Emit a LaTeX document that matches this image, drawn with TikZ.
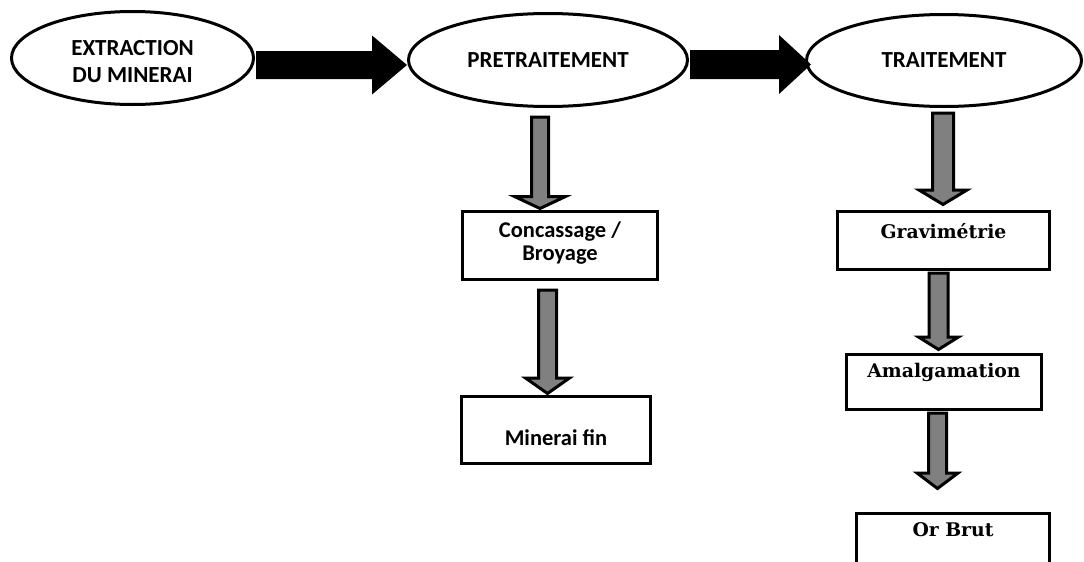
\documentclass[tikz,border=0pt]{standalone}
\usepackage{fontspec}
\setmainfont{Carlito}
\newfontfamily\serifb{DejaVu Serif}
\usetikzlibrary{shapes.geometric,calc}
\definecolor{arrgrey}{RGB}{128,128,128}
\newcommand\vblockarrow[5]{% start, tip, shaft half, head half, head length
  \draw[greyarrow] let \p1=(#1), \p2=(#2) in
    (\x2-#3pt,\y1) -- (\x2+#3pt,\y1) -- (\x2+#3pt,\y2+#5pt) -- (\x2+#4pt,\y2+#5pt)
    -- (\x2,\y2) -- (\x2-#4pt,\y2+#5pt) -- (\x2-#3pt,\y2+#5pt) -- cycle;}
\newcommand\hblockarrow[5]{% start, tip, shaft half, head half, head length
  \fill[blackarrow] let \p1=(#1), \p2=(#2) in
    (\x1,\y2+#3pt) -- (\x2-#5pt,\y2+#3pt) -- (\x2-#5pt,\y2+#4pt) -- (\x2,\y2)
    -- (\x2-#5pt,\y2-#4pt) -- (\x2-#5pt,\y2-#3pt) -- (\x1,\y2-#3pt) -- cycle;}
\newcommand\shiftv[2]{\raisebox{#1}[\height][\depth]{#2}}
\begin{document}
\begin{tikzpicture}[x=1pt,y=-1pt,line width=3pt,
  oval/.style={ellipse,draw,inner sep=0pt,align=center,
    font=\bfseries\fontsize{23}{27}\selectfont},
  box/.style={rectangle,draw,inner sep=0pt,align=center},
  cfont/.style={font=\bfseries\fontsize{22.5}{22.5}\selectfont},
  sfont/.style={font=\serifb\bfseries\fontsize{18.8}{22}\selectfont},
  greyarrow/.style={fill=arrgrey,draw=black,line width=3pt,line join=miter},
  blackarrow/.style={fill=black}]
\useasboundingbox (0,0) rectangle (1084,562);
\clip (0,0) rectangle (1084,562);

% ellipses
\node[oval,minimum width=242pt,minimum height=93pt] (ext) at (132.5,58)
  {\shiftv{-6pt}{\begin{tabular}{@{}c@{}}EXTRACTION\\DU MINERAI\end{tabular}}};
\node[oval,minimum width=279pt,minimum height=93pt] (pre) at (548,60) {PRETRAITEMENT};
\node[oval,minimum width=275pt,minimum height=92pt] (trait) at (944,60.5) {TRAITEMENT};

% boxes
\node[box,cfont,minimum width=195pt,minimum height=68pt] (concas) at (560,245.5)
  {\shiftv{1pt}{\begin{tabular}{@{}c@{}}Concassage /\\Broyage\end{tabular}}};
\node[box,cfont,minimum width=189pt,minimum height=67pt] (minfin) at (556,430)
  {\shiftv{-8pt}{Minerai fin}};
\node[box,sfont,minimum width=212pt,minimum height=58pt] (gravi) at (943.5,240.5)
  {\shiftv{9pt}{Gravimétrie}};
\node[box,sfont,minimum width=195pt,minimum height=55pt] (amalg) at (944,382)
  {\shiftv{9.5pt}{Amalgamation}};
\node[box,sfont,minimum width=193pt,minimum height=100pt] (orbrut) at (953,563.5)
  {\shiftv{34pt}{Or Brut}};

% black arrows
\coordinate (b1s) at ($(ext.east)+(1,7)$);
\coordinate (b1t) at ($(pre.west)+(0,5)$);
\hblockarrow{b1s}{b1t}{14}{29.5}{35}
\coordinate (b2s) at ($(pre.east)+(1,4.5)$);
\coordinate (b2t) at ($(trait.west)+(6,4)$);
\hblockarrow{b2s}{b2t}{14.5}{29.5}{32}

% grey arrows
\coordinate (g1s) at ($(pre.south)+(0,9)$);
\coordinate (g1t) at ($(concas.north)+(-20,-1.5)$);
\vblockarrow{g1s}{g1t}{8.5}{25.5}{12}
\coordinate (g2s) at ($(concas.south)+(0,9)$);
\coordinate (g2t) at ($(minfin.north)+(-8.5,-1.5)$);
\vblockarrow{g2s}{g2t}{9}{22}{15.5}
\coordinate (g3s) at ($(trait.south)+(0,5)$);
\coordinate (g3t) at ($(gravi.north)+(-0.5,-5.5)$);
\vblockarrow{g3s}{g3t}{10.5}{24}{14.5}
\coordinate (g4s) at ($(gravi.south)+(0,2)$);
\coordinate (g4t) at ($(amalg.north)+(-5.5,-3.5)$);
\vblockarrow{g4s}{g4t}{9.5}{20}{12.5}
\coordinate (g5s) at ($(amalg.south)+(0,2)$);
\coordinate (g5t) at ($(orbrut.north)+(-15.5,-23.5)$);
\vblockarrow{g5s}{g5t}{9}{20.5}{15.5}
\end{tikzpicture}
\end{document}
